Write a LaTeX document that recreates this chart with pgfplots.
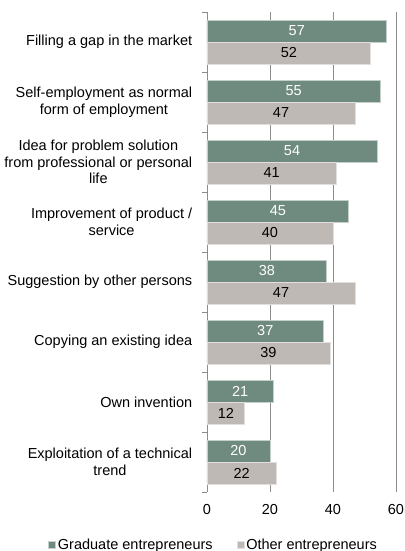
\documentclass[border=0pt]{standalone}
\usepackage{fontspec}
\setmainfont{Liberation Sans}
\usepackage{pgfplots}
\pgfplotsset{compat=1.18}
\definecolor{grad}{HTML}{6F8A7E}
\definecolor{other}{HTML}{BFB9B5}
\definecolor{gridc}{HTML}{8C8C8C}
\newcommand{\fs}{\fontsize{14.5}{16.5}\selectfont}
\begin{document}
\begin{tikzpicture}
\useasboundingbox (-207pt,-59pt) rectangle (197pt,492pt);
\begin{axis}[
  at={(0pt,0pt)}, anchor=south west,
  scale only axis, width=189pt, height=480pt,
  /pgf/number format/assume math mode=true,
  xbar=0pt, bar width=22pt,
  xmin=0, xmax=60, ymin=-0.5, ymax=7.5,
  separate axis lines,
  axis y line*=left, axis x line*=bottom,
  x axis line style={draw=none},
  y axis line style={draw=gridc, line width=0.8pt, -},
  xtick={0,20,40,60},
  major x tick style={draw=none},
  xmajorgrids, grid style={gridc, line width=0.8pt},
  ytick={0,...,7},
  yticklabels={{Exploitation of a technical\\trend},{Own invention},{Copying an existing idea},{Suggestion by other persons},{Improvement of product /\\service},{Idea for problem solution\\from professional or personal\\life},{Self-employment as normal\\form of employment},{Filling a gap in the market}},
  major y tick style={draw=none},
  minor ytick={-0.5,0.5,...,7.5},
  minor tick length=5pt,
  tick align=outside,
  minor y tick style={draw=gridc, line width=0.8pt},
  yticklabel style={align=center, font=\fs, xshift=-7pt},
  xticklabel style={font=\fs, yshift=-5pt},
  legend columns=2,
  legend style={draw=none, at={(0.035,-0.110)}, anchor=center, font=\fs,
    /tikz/every even column/.append style={column sep=22pt}},
  legend image code/.code={\fill[#1] (0pt,-3.5pt) rectangle (7pt,3.5pt);},
]
\addplot[fill=grad, draw=white!60!grad, line width=0.6pt, bar shift=11pt,
  visualization depends on={rawx \as \rawx},
  nodes near coords,
  every node near coord/.append style={anchor=center, text=white, font=\fs, shift={(axis direction cs:-\rawx/2,0)}}]
  coordinates {(20,0) (21,1) (37,2) (38,3) (45,4) (54,5) (55,6) (57,7)};
\addplot[fill=other, draw=white!55!other, line width=0.6pt, bar shift=-11pt,
  visualization depends on={rawx \as \rawx},
  nodes near coords,
  every node near coord/.append style={anchor=center, text=black, font=\fs, shift={(axis direction cs:-\rawx/2,0)}}]
  coordinates {(22,0) (12,1) (39,2) (47,3) (40,4) (41,5) (47,6) (52,7)};
\legend{Graduate entrepreneurs, Other entrepreneurs}
\end{axis}
\end{tikzpicture}
\end{document}
